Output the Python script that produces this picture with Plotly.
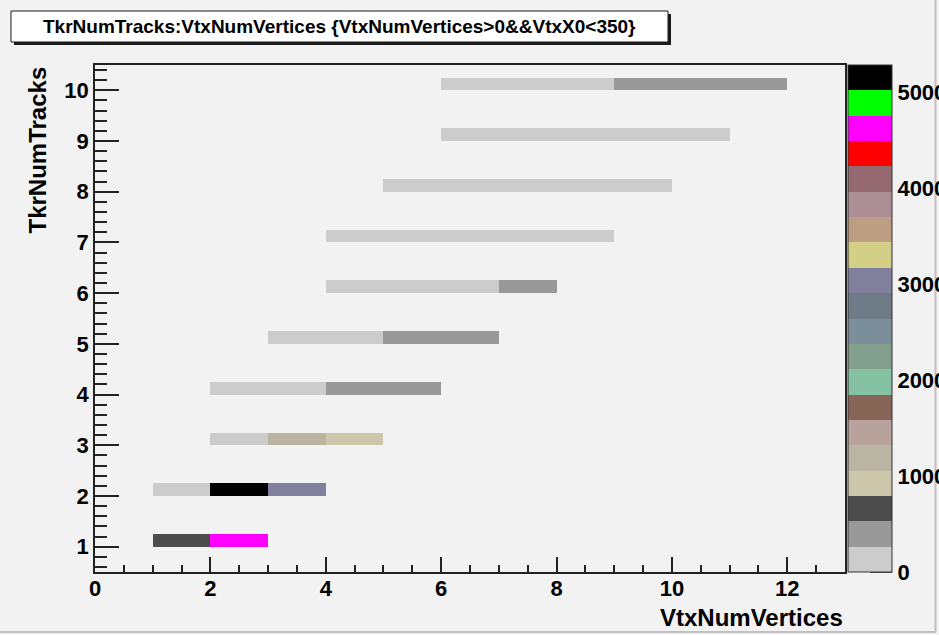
import plotly.graph_objects as go

# ---------------- data ----------------
vtx_edges = list(range(0, 14))            # VtxNumVertices bin edges 0..13
trk_values = [1, 2, 3, 4, 5, 6, 7, 8, 9, 10]  # TkrNumTracks rows
# counts per VtxNumVertices bin (0..12) for each TkrNumTracks value
trk_1 = [None, 680, 4680, None, None, None, None, None, None, None, None, None, None]
trk_2 = [None, 150, 5290, 3100, None, None, None, None, None, None, None, None, None]
trk_3 = [None, None, 180, 1200, 930, None, None, None, None, None, None, None, None]
trk_4 = [None, None, 120, 200, 400, 350, None, None, None, None, None, None, None]
trk_5 = [None, None, None, 60, 140, 390, 300, None, None, None, None, None, None]
trk_6 = [None, None, None, None, 40, 90, 190, 280, None, None, None, None, None]
trk_7 = [None, None, None, None, 15, 40, 90, 120, 60, None, None, None, None]
trk_8 = [None, None, None, None, None, 10, 25, 60, 110, 80, None, None, None]
trk_9 = [None, None, None, None, None, None, 8, 20, 45, 70, 50, None, None]
trk_10 = [None, None, None, None, None, None, 20, 60, 150, 330, 290, 270, None]
z_max = 5290
cbar_ticks = [0, 1000, 2000, 3000, 4000, 5000]
palette = ["#cccccc", "#999999", "#4c4c4c", "#ccc7ab", "#bab5a3", "#b8a39c",
           "#876657", "#85c2a3", "#829e8c", "#7a8f99", "#6e7a85", "#80809c",
           "#d4cf87", "#bd9e82", "#ab8f94", "#94696f", "#ff0000", "#ff00ff",
           "#00ff00", "#000000"]

# ---------------- build histogram grid ----------------
rows = [trk_1, trk_2, trk_3, trk_4, trk_5, trk_6, trk_7, trk_8, trk_9, trk_10]
n_ybins = 40
y_lo, y_hi = 0.5, 10.5
y_edges = [y_lo + i * (y_hi - y_lo) / n_ybins for i in range(n_ybins + 1)]
z = [[None] * (len(vtx_edges) - 1) for _ in range(n_ybins)]
for t, row in zip(trk_values, rows):
    idx = int(round((t - y_lo) / ((y_hi - y_lo) / n_ybins)))
    z[idx] = row

n = len(palette)
colorscale = []
for i, c in enumerate(palette):
    colorscale.append([i / n, c])
    colorscale.append([(i + 1) / n, c])

# ---------------- geometry helpers (pixels -> paper) ----------------
W, H = 939, 635
L, R, T, B = 95, 94, 65, 63
PW, PH = W - L - R, H - T - B


def px(xp):
    return (xp - L) / PW


def py(yp):
    return (H - B - yp) / PH


FONT = "Liberation Sans"
BG = "#f2f2f2"

fig = go.Figure()
fig.add_trace(go.Heatmap(
    x=vtx_edges, y=y_edges, z=z,
    zmin=0, zmax=z_max,
    colorscale=colorscale,
    hoverinfo="skip",
    colorbar=dict(
        x=px(848), xanchor="left", xpad=0, ypad=0,
        y=0.5, yanchor="middle", len=1, lenmode="fraction",
        thickness=44, thicknessmode="pixels",
        outlinewidth=1, outlinecolor="#333333",
        tickvals=cbar_ticks, ticktext=[str(v) for v in cbar_ticks],
        ticks="",
        tickfont=dict(family=FONT, size=22, color="black", weight="bold"),
    ),
))

fig.update_xaxes(
    range=[0, 13], dtick=2, tick0=0,
    ticks="inside", ticklen=15, tickwidth=1.5, tickcolor="#222222",
    minor=dict(dtick=0.5, ticks="inside", ticklen=7, tickwidth=1.5, tickcolor="#222222"),
    showgrid=False, zeroline=False,
    showline=True, linecolor="#222222", linewidth=1.5, mirror=True,
    ticklabelstandoff=-4,
    tickfont=dict(family=FONT, size=22, color="black", weight="bold"),
)
fig.update_yaxes(
    range=[0.5, 10.5], dtick=1, tick0=0,
    ticks="inside", ticklen=24, tickwidth=1.5, tickcolor="#222222",
    minor=dict(dtick=0.2, ticks="inside", ticklen=12, tickwidth=1.5, tickcolor="#222222"),
    showgrid=False, zeroline=False,
    showline=True, linecolor="#222222", linewidth=1.5, mirror=True,
    tickfont=dict(family=FONT, size=22, color="black", weight="bold"),
)

shapes = [
    # title box shadow and box
    dict(type="rect", xref="paper", yref="paper",
         x0=px(14), x1=px(671), y0=py(45), y1=py(14),
         fillcolor="#1a1a1a", line=dict(width=0), layer="above"),
    dict(type="rect", xref="paper", yref="paper",
         x0=px(11), x1=px(668), y0=py(42), y1=py(11),
         fillcolor="#ffffff", line=dict(color="#1a1a1a", width=1), layer="above"),
    # canvas border
    dict(type="line", xref="paper", yref="paper",
         x0=px(935.5), x1=px(935.5), y0=py(632), y1=py(0),
         line=dict(color="#c0c0c0", width=2)),
    dict(type="line", xref="paper", yref="paper",
         x0=px(0), x1=px(936), y0=py(632), y1=py(632),
         line=dict(color="#c0c0c0", width=2)),
]
# colour-bar tick marks (drawn inward from the palette's right edge)
for v in cbar_ticks:
    shapes.append(dict(type="line", xref="paper", yref="paper",
                       x0=px(870), x1=px(892), y0=v / z_max, y1=v / z_max,
                       line=dict(color="#222222", width=1.5), layer="above"))

annotations = [
    dict(text="TkrNumTracks:VtxNumVertices {VtxNumVertices>0&&VtxX0<350}",
         xref="paper", yref="paper", x=px(339.5), y=py(26.5),
         xanchor="center", yanchor="middle", showarrow=False,
         font=dict(family=FONT, size=19, color="black", weight="bold")),
    dict(text="VtxNumVertices", xref="paper", yref="paper",
         x=px(845), y=py(617), xanchor="right", yanchor="middle", showarrow=False,
         font=dict(family=FONT, size=24, color="black", weight="bold")),
    dict(text="TkrNumTracks", xref="paper", yref="paper",
         x=px(37), y=py(65), xanchor="center", yanchor="top", textangle=-90,
         showarrow=False,
         font=dict(family=FONT, size=24, color="black", weight="bold")),
]

fig.update_layout(
    width=W, height=H,
    margin=dict(l=L, r=R, t=T, b=B, autoexpand=False),
    paper_bgcolor=BG, plot_bgcolor=BG,
    shapes=shapes, annotations=annotations,
    showlegend=False,
)

fig.write_html("out.html", config={"displayModeBar": False},
               post_script="document.body.style.margin='0px';document.body.style.background='#f2f2f2';")
